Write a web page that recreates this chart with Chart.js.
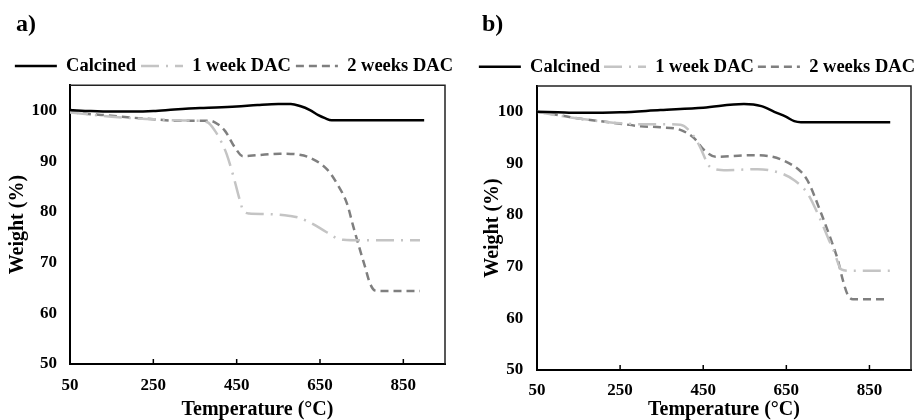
<!DOCTYPE html>
<html>
<head>
    <title>TGA curves</title>
    <style>
        body{
            margin:0;
            background:white;
        }
        .panel{
            position:absolute;
            top:0;
        }
        .tag{
            position:absolute;
            top:11px;
            font:bold 24px "Liberation Serif", "Times New Roman", serif;
            line-height:24px;
        }
    </style>
</head>
<body>
<canvas id="chartA" class="panel" style="left:0px" width="460" height="420"></canvas>
<canvas id="chartB" class="panel" style="left:460px" width="459" height="420"></canvas>
<div class="tag" style="left:16px">a)</div>
<div class="tag" style="left:482px">b)</div>

<script src="https://cdn.jsdelivr.net/npm/chart.js@4.4.1/dist/chart.umd.min.js"></script>
<script>

    const xTicks = [50, 250, 450, 650, 850];
    const yTicks = [50, 60, 70, 80, 90, 100];
    const seriesNames = ['Calcined', '1 week DAC', '2 weeks DAC'];

    // panel a
    const tempCalcinedA = [50, 100, 150, 200, 250, 300, 362, 400, 450, 500, 550, 580, 602, 626, 646, 662, 678, 700, 800, 900];
    const weightCalcinedA = [100.1, 99.9, 99.8, 99.8, 99.9, 100.2, 100.5, 100.6, 100.8, 101.1, 101.3, 101.3, 100.9, 100.1, 99.1, 98.5, 98.1, 98.1, 98.1, 98.1];
    const temp1WeekA = [50, 100, 150, 200, 250, 300, 350, 380, 398, 414, 426, 442, 458, 466, 480, 522, 578, 602, 626, 650, 674, 690, 706, 750, 800, 850, 890];
    const weight1WeekA = [99.6, 99.2, 98.8, 98.5, 98.3, 98.1, 98.0, 97.7, 96.0, 93.7, 91.4, 87.1, 82.2, 80.2, 79.7, 79.6, 79.2, 78.8, 77.9, 76.8, 75.6, 74.8, 74.5, 74.4, 74.4, 74.4, 74.4];
    const temp2WeeksA = [50, 100, 150, 200, 250, 300, 350, 386, 405, 422, 446, 465, 500, 554, 600, 626, 667, 690, 715, 730, 746, 758, 770, 782, 800, 850, 890];
    const weight2WeeksA = [99.7, 99.3, 99.0, 98.6, 98.3, 98.0, 98.0, 98.0, 97.3, 96.0, 92.7, 91.0, 91.2, 91.5, 91.3, 90.7, 88.4, 85.7, 81.6, 77.1, 72.5, 69.2, 65.9, 64.5, 64.4, 64.4, 64.4];

    // panel b
    const tempCalcinedB = [50, 100, 150, 250, 347, 450, 548, 590, 621, 650, 669, 685, 800, 900];
    const weightCalcinedB = [100.0, 99.9, 99.8, 99.9, 100.35, 100.8, 101.5, 101.1, 100.0, 99.0, 98.2, 98.0, 98.0, 98.0];
    const temp1WeekB = [50, 100, 150, 200, 250, 300, 350, 395, 428, 444, 456, 468, 508, 581, 637, 669, 701, 729, 753, 765, 782, 806, 850, 900];
    const weight1WeekB = [100.0, 99.3, 98.7, 98.2, 97.8, 97.6, 97.6, 97.5, 95.2, 92.9, 90.7, 89.2, 88.7, 88.9, 88.1, 86.75, 84.2, 79.65, 75.1, 72.9, 69.5, 69.2, 69.2, 69.2];
    const temp2WeeksB = [50, 100, 150, 200, 250, 300, 347, 395, 428, 452, 480, 565, 610, 645, 685, 701, 734, 758, 774, 786, 798, 810, 850, 890];
    const weight2WeeksB = [100.0, 99.4, 98.7, 98.2, 97.7, 97.2, 97.0, 96.5, 94.9, 92.6, 91.3, 91.6, 91.4, 90.5, 88.4, 86.7, 80.3, 75.1, 71.3, 67.4, 64.5, 63.7, 63.7, 63.7];

    Chart.defaults.font.family = '"Liberation Serif", "Times New Roman", serif';
    Chart.defaults.font.weight = 'bold';
    Chart.defaults.color = '#000';

    function points(temps, weights) {
        return temps.map((t, i) => ({x: t, y: weights[i]}));
    }

    // box on top/right of the plot + small inward ticks on the x axis
    const frame = {
        id: 'frame',
        afterDraw(chart) {
            const ctx = chart.ctx;
            const area = chart.chartArea;
            const x = chart.scales.x;
            ctx.save();
            ctx.strokeStyle = '#222';
            ctx.lineWidth = 1.5;
            ctx.beginPath();
            ctx.moveTo(area.left, area.top);
            ctx.lineTo(area.right, area.top);
            ctx.lineTo(area.right, area.bottom);
            ctx.stroke();
            ctx.strokeStyle = '#000';
            x.ticks.forEach(t => {
                const px = x.getPixelForValue(t.value);
                if (px > area.left + 2) {
                    ctx.beginPath();
                    ctx.moveTo(px, area.bottom);
                    ctx.lineTo(px, area.bottom - 5);
                    ctx.stroke();
                }
            });
            ctx.restore();
        }
    };

    function makeChart(id, series, box) {
        const styles = [
            {borderColor: '#000000', borderDash: []},
            {borderColor: '#c4c4c4', borderDash: [18, 7, 2, 7]},
            {borderColor: '#7f7f7f', borderDash: [8, 5]}
        ];
        return new Chart(id, {
            type: 'line',
            data: {
                datasets: series.map((s, i) => ({
                    label: seriesNames[i],
                    data: points(s[0], s[1]),
                    borderColor: styles[i].borderColor,
                    borderDash: styles[i].borderDash,
                    borderWidth: 2.5,
                    pointRadius: 0,
                    fill: false,
                    cubicInterpolationMode: 'monotone'
                }))
            },
            options: {
                responsive: false,
                animation: false,
                layout: {padding: {left: 0, right: box.right, top: box.top, bottom: 0}},
                plugins: {
                    legend: {
                        align: 'end',
                        labels: {
                            usePointStyle: true,
                            pointStyleWidth: 42,
                            padding: box.legendPad,
                            font: {size: 18.5, weight: 'bold'},
                            generateLabels: chart => chart.data.datasets.map((ds, i) => ({
                                text: ds.label,
                                datasetIndex: i,
                                strokeStyle: ds.borderColor,
                                fillStyle: 'rgba(0,0,0,0)',
                                lineWidth: ds.borderWidth,
                                lineDash: ds.borderDash,
                                pointStyle: 'line',
                                fontColor: '#000',
                                hidden: false
                            }))
                        }
                    },
                    tooltip: {enabled: false}
                },
                scales: {
                    x: {
                        type: 'linear',
                        min: 50,
                        max: 950,
                        afterBuildTicks: scale => { scale.ticks = xTicks.map(v => ({value: v})); },
                        afterFit: scale => { scale.height = box.xHeight; },
                        ticks: {padding: box.xTickPad, font: {size: 17, weight: 'bold'}},
                        grid: {display: false, drawTicks: false},
                        border: {display: true, color: '#000', width: 2},
                        title: {
                            display: true,
                            text: 'Temperature (°C)',
                            font: {size: 20, weight: 'bold', lineHeight: 1},
                            padding: {top: 0, bottom: 0}
                        }
                    },
                    y: {
                        type: 'linear',
                        min: 50,
                        max: 105,
                        afterBuildTicks: scale => { scale.ticks = yTicks.map(v => ({value: v})); },
                        afterFit: scale => { scale.width = box.yWidth; },
                        ticks: {padding: box.yTickPad, font: {size: 17, weight: 'bold'}},
                        grid: {display: false, drawTicks: false},
                        border: {display: true, color: '#000', width: 2},
                        title: {
                            display: true,
                            text: 'Weight (%)',
                            font: {size: 20, weight: 'bold', lineHeight: 1},
                            padding: {top: box.yTitlePad, bottom: 0}
                        }
                    },
                    y2: {
                        type: 'linear',
                        position: 'right',
                        afterFit: scale => { scale.width = box.rightGap; },
                        ticks: {display: false},
                        grid: {display: false, drawTicks: false},
                        border: {display: false}
                    }
                }
            },
            plugins: [frame]
        });
    }

    makeChart('chartA', [
        [tempCalcinedA, weightCalcinedA],
        [temp1WeekA, weight1WeekA],
        [temp2WeeksA, weight2WeeksA]
    ], {top: 51.75, right: 2, legendPad: 5, yWidth: 70, yTitlePad: 7.5, yTickPad: 13, rightGap: 13, xHeight: 56, xTickPad: 11});

    makeChart('chartB', [
        [tempCalcinedB, weightCalcinedB],
        [temp1WeekB, weight1WeekB],
        [temp2WeeksB, weight2WeeksB]
    ], {top: 53.5, right: 0, legendPad: 4, yWidth: 77, yTitlePad: 22.5, yTickPad: 13.7, rightGap: 8, xHeight: 50, xTickPad: 10});

</script>
</body>
</html>
